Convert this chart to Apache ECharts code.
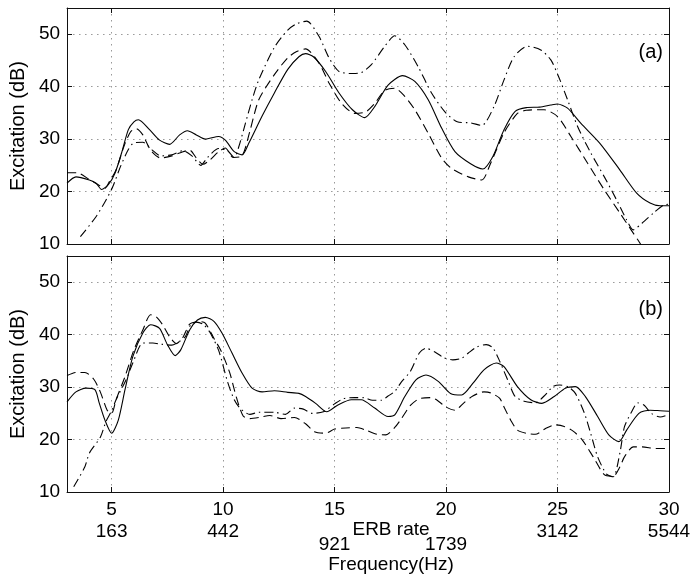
<!DOCTYPE html>
<html>
<head>
<meta charset="utf-8">
<script src="https://cdn.jsdelivr.net/npm/echarts@6/dist/echarts.min.js"></script>
<style>
  html, body { margin: 0; padding: 0; background: #fff; }
  #chart { width: 697px; height: 583px; }
</style>
</head>
<body>
<div id="chart"></div>
<script>
// ERB rate ticks and matching frequency labels
var erbTicks = [5, 10, 15, 20, 25, 30];
var freqLabels = ["163", "442", "921", "1739", "3142", "5544"];
var freqRow1 = [5, 10, 25, 30]; // first row of frequencies
var freqRow2 = [15, 20];        // dropped row
var dbTicks = [10, 20, 30, 40, 50];

// panel (a)
var aSolidX = [3.0,3.4,4.0,4.3,4.55,4.85,5.15,5.45,5.75,6.0,6.2,6.7,7.15,7.6,8.05,8.4,8.8,9.2,9.8,10.1,10.5,10.85,11.15,11.75,12.3,12.9,13.4,13.7,14.05,14.6,15.2,15.8,16.35,16.8,17.4,18.05,18.6,19.2,19.8,20.4,21.1,21.65,22.1,22.6,23.1,23.6,24.2,24.7,25.0,25.45,26.05,26.9,27.8,28.55,29.15,29.6,30.0];
var aSolidY = [21.6,22.8,22.2,21.6,20.4,21.3,23.5,27.4,31.8,33.3,33.7,31.8,29.8,29.0,30.8,31.6,30.8,30.0,30.5,29.8,27.6,27.0,29.2,34.4,38.8,43.3,45.7,46.3,45.7,42.9,38.8,35.6,34.1,36.2,40.3,42.1,41.0,37.5,32.1,27.6,25.3,24.3,26.7,31.8,35.3,36.0,36.1,36.5,36.7,35.9,33.0,29.2,24.1,19.7,17.8,17.3,17.3];

var aDashX = [3.0,3.45,4.0,4.4,4.7,4.9,5.2,5.55,5.85,6.1,6.4,6.75,7.2,7.7,8.2,8.5,8.8,9.1,9.4,9.8,10.1,10.45,10.85,11.2,11.6,12.3,12.9,13.3,13.7,14.3,14.75,15.3,15.9,16.4,16.8,17.25,17.7,18.1,18.6,19.2,19.8,20.25,21.0,21.6,22.0,22.6,23.2,23.6,24.4,25.0,25.6,26.35,27.1,27.8,28.3,28.6,29.0,30.0];
var aDashY = [23.6,23.6,22.3,21.3,20.6,21.9,24.1,28.6,31.4,32.0,30.8,27.9,26.4,26.8,27.6,27.9,26.4,25.2,26.0,27.6,28.3,26.5,26.8,31.5,37.5,42.3,45.5,46.7,47.2,44.5,40.7,36.9,34.9,35.2,36.8,39.3,39.7,38.4,35.6,31.1,26.4,24.4,22.8,22.2,25.4,31.2,34.9,35.5,35.6,34.3,30.5,25.4,20.3,15.9,12.7,10.8,8.5,7.0];

var aDotX = [3.6,4.3,4.75,5.05,5.4,5.75,6.0,6.4,6.8,7.2,7.7,8.2,8.6,9.0,9.3,9.8,10.2,10.5,10.7,11.0,11.3,11.6,12.3,12.9,13.3,13.75,14.3,14.75,15.2,15.8,16.2,16.65,17.25,17.7,18.15,18.75,19.35,19.95,20.5,21.1,21.6,22.15,22.6,23.05,23.65,24.25,24.7,25.05,25.45,25.9,26.5,27.1,27.65,28.1,28.4,28.8,29.3,29.75,30.0];
var aDotY = [11.4,15.2,18.4,20.9,24.8,28.0,29.3,29.4,28.0,26.8,27.0,27.8,26.8,25.0,26.5,28.2,27.8,26.5,28.5,33.0,37.5,41.3,47.5,50.8,52.0,52.5,49.6,45.5,42.9,42.5,42.7,44.2,47.7,49.7,48.0,43.8,38.8,35.2,33.3,33.1,32.6,36.2,41.3,45.7,47.7,47.0,45.1,41.9,37.5,32.4,27.3,22.8,18.4,14.6,12.7,14.0,15.9,17.4,17.6];

// panel (b)
var bSolidX = [3.0,3.4,3.85,4.25,4.45,4.7,5.0,5.3,5.6,5.95,6.4,6.75,7.15,7.5,7.85,8.1,8.5,8.85,9.2,9.6,9.95,10.4,10.85,11.3,11.75,12.3,12.9,13.4,13.7,14.15,14.65,15.15,15.75,16.2,16.8,17.4,17.7,18.15,18.65,19.1,19.65,20.2,20.7,21.2,21.7,22.25,22.6,23.2,23.8,24.3,24.85,25.35,25.8,26.25,26.8,27.3,27.75,28.1,28.65,29.15,29.6,30.0];
var bSolidY = [27.2,29.1,29.8,29.5,26.9,23.7,21.2,23.7,29.5,35.8,40.3,41.9,41.2,38.1,36.0,37.1,40.9,42.8,43.3,42.5,40.3,36.5,32.7,29.8,29.1,29.3,29.0,28.8,28.2,26.9,25.3,26.6,27.6,27.6,26.0,24.4,24.7,28.2,31.4,32.3,31.1,28.8,28.5,30.7,33.3,34.6,33.9,30.1,27.6,26.9,28.2,29.8,30.1,28.2,24.4,20.9,19.6,21.8,25.0,25.6,25.5,25.4];

var bDashX = [3.0,3.4,3.8,4.2,4.5,4.8,5.0,5.2,5.6,6.0,6.4,6.75,7.0,7.3,7.6,7.9,8.2,8.5,8.9,9.2,9.6,9.9,10.3,10.6,10.9,11.2,11.6,12.1,12.6,13.2,13.7,14.1,14.6,15.0,15.5,16.0,16.4,16.9,17.3,17.7,18.0,18.4,18.8,19.3,19.6,20.0,20.4,20.8,21.2,21.7,22.0,22.4,22.6,22.9,23.2,23.6,24.0,24.5,24.9,25.3,25.7,26.1,26.6,27.1,27.5,27.8,28.0,28.4,28.8,29.4,30.0];
var bDashY = [32.2,32.8,32.8,31.5,29.0,25.6,25.0,27.6,32.0,37.1,40.9,43.8,43.4,41.8,39.6,38.3,39.5,42.0,42.5,42.2,39.2,37.0,32.7,28.0,24.5,24.0,24.2,24.6,24.0,24.2,23.0,21.5,21.2,22.0,22.2,22.3,21.8,21.0,20.9,22.3,24.0,26.5,27.8,28.0,27.5,26.2,25.6,27.0,28.3,29.1,28.9,27.9,26.2,23.7,21.8,21.2,21.0,22.2,22.8,22.5,21.6,20.0,16.7,13.3,13.0,14.8,16.7,18.6,18.6,18.3,18.3];

var bDotX = [3.3,3.8,4.0,4.5,4.75,5.0,5.2,5.65,5.95,6.4,6.85,7.2,7.7,8.0,8.3,8.55,8.8,9.1,9.4,9.8,10.2,10.5,10.8,11.2,11.6,12.3,12.8,13.2,13.6,14.0,14.5,15.0,15.4,15.9,16.3,16.7,17.1,17.4,17.7,18.0,18.4,18.8,19.1,19.5,19.9,20.3,20.7,21.0,21.4,21.8,22.1,22.4,22.8,23.1,23.5,24.0,24.4,24.8,25.1,25.5,25.8,26.2,26.5,26.8,27.2,27.5,27.8,28.0,28.3,28.6,28.9,29.2,29.6,30.0];
var bDotY = [11.0,14.8,17.4,20.5,23.5,25.5,27.6,31.4,34.6,38.4,38.4,38.2,38.0,38.6,39.6,41.9,42.4,42.0,40.5,37.0,31.0,27.6,25.8,24.8,25.2,25.2,24.8,26.0,25.8,25.0,25.3,26.8,27.8,28.0,28.0,27.5,27.5,28.3,29.2,31.0,33.0,36.5,37.4,36.7,35.6,35.2,35.5,36.5,37.7,38.1,37.5,35.0,31.0,28.2,27.3,27.0,28.3,30.1,30.4,30.0,28.8,25.1,21.0,16.7,13.4,12.9,17.5,22.4,25.1,27.0,26.5,25.0,24.3,24.8];

function zip(xs, ys) {
  return xs.map(function (x, i) { return [x, ys[i]]; });
}
function freqOf(v) {
  var i = erbTicks.indexOf(v);
  return i < 0 ? "" : freqLabels[i];
}

var FONT = "Liberation Sans";
var gridBox = { left: 64, width: 605, height: 236 };

function boxX(gridIndex, pos, withGrid) {
  return {
    type: "value", gridIndex: gridIndex, position: pos, min: 3, max: 30,
    axisLine: { show: true, onZero: false, lineStyle: { color: "#111", width: 1 } },
    axisTick: { show: true, inside: true, length: 5, customValues: erbTicks, lineStyle: { color: "#111" } },
    axisLabel: { show: false, customValues: erbTicks },
    splitLine: { show: withGrid, lineStyle: { color: "#999", width: 1, type: [1.5, 4.5] } }
  };
}
function boxY(gridIndex, pos, withLabels) {
  return {
    type: "value", gridIndex: gridIndex, position: pos, min: 10, max: 55, interval: 10,
    name: withLabels ? "Excitation (dB)" : "",
    nameLocation: "middle", nameGap: 37,
    nameTextStyle: { fontFamily: FONT, fontSize: 20, color: "#000" },
    axisLine: { show: true, onZero: false, lineStyle: { color: "#111", width: 1 } },
    axisTick: { show: true, inside: true, length: 5, customValues: dbTicks, lineStyle: { color: "#111" } },
    axisLabel: { show: withLabels, customValues: dbTicks, margin: 7, fontFamily: FONT, fontSize: 19, color: "#000" },
    splitLine: { show: withLabels, lineStyle: { color: "#999", width: 1, type: [1.5, 4.5] } }
  };
}
function freqAxis(values, offset, name, nameGap) {
  return {
    type: "value", gridIndex: 1, position: "bottom", offset: offset, min: 3, max: 30,
    name: name, nameLocation: "middle", nameGap: nameGap,
    nameTextStyle: { fontFamily: FONT, fontSize: 19, color: "#000", padding: [0, 0, 0, 46] },
    axisLine: { show: false }, axisTick: { show: false }, splitLine: { show: false },
    axisLabel: { customValues: values, margin: 8, fontFamily: FONT, fontSize: 19, color: "#000", formatter: freqOf }
  };
}

var erbAxis = boxX(1, "bottom", true);
erbAxis.axisLabel = { show: true, customValues: erbTicks, margin: 8, fontFamily: FONT, fontSize: 19, color: "#000" };
erbAxis.name = "ERB rate";
erbAxis.nameLocation = "middle";
erbAxis.nameGap = 25;
erbAxis.nameTextStyle = { fontFamily: FONT, fontSize: 19, color: "#000", padding: [0, 0, 0, 46] };

function line(name, data, xi, yi, dash) {
  return {
    name: name, type: "line", data: data, xAxisIndex: xi, yAxisIndex: yi,
    symbol: "none", smooth: 0.25, clip: true,
    lineStyle: { color: "#000", width: 1.1, type: dash }
  };
}

var chart = echarts.init(document.getElementById("chart"));
chart.setOption({
  animation: false,
  backgroundColor: "#fff",
  grid: [
    { left: gridBox.left, top: 8, width: gridBox.width, height: gridBox.height },
    { left: gridBox.left, top: 256, width: gridBox.width, height: gridBox.height }
  ],
  xAxis: [
    boxX(0, "bottom", true),
    boxX(0, "top", false),
    erbAxis,
    boxX(1, "top", false),
    freqAxis(freqRow1, 22, "", 0),
    freqAxis(freqRow2, 35, "Frequency(Hz)", 20)
  ],
  yAxis: [
    boxY(0, "left", true),
    boxY(0, "right", false),
    boxY(1, "left", true),
    boxY(1, "right", false)
  ],
  graphic: [
    { type: "text", right: 34, top: 42, style: { text: "(a)", font: "20px " + FONT, fill: "#000" } },
    { type: "text", right: 34, top: 299, style: { text: "(b)", font: "20px " + FONT, fill: "#000" } }
  ],
  series: [
    line("a solid", zip(aSolidX, aSolidY), 0, 0, "solid"),
    line("a dashed", zip(aDashX, aDashY), 0, 0, [9, 5]),
    line("a dash-dot", zip(aDotX, aDotY), 0, 0, [9, 4, 1.5, 4]),
    line("b solid", zip(bSolidX, bSolidY), 2, 2, "solid"),
    line("b dashed", zip(bDashX, bDashY), 2, 2, [9, 5]),
    line("b dash-dot", zip(bDotX, bDotY), 2, 2, [9, 4, 1.5, 4])
  ]
});
</script>
</body>
</html>
